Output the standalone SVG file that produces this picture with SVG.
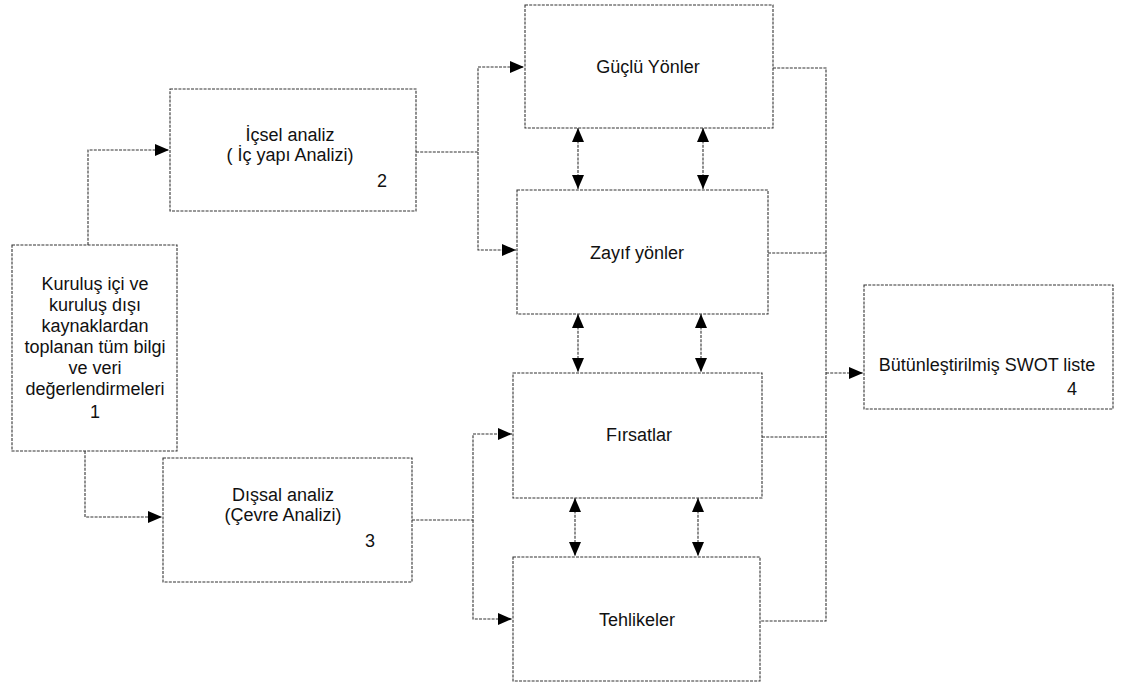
<svg xmlns="http://www.w3.org/2000/svg" width="1127" height="685" viewBox="0 0 1127 685">
<style>
.box{fill:#fff;stroke:#333;stroke-width:1.1;stroke-dasharray:3 1.2}
.ln{fill:none;stroke:#333;stroke-width:1.1;stroke-dasharray:3 1.2}
text{font-family:"Liberation Sans",Arial,sans-serif;font-size:18px;fill:#111;text-anchor:middle}
</style>
<defs>
<marker id="ah" markerUnits="userSpaceOnUse" markerWidth="15" markerHeight="12" refX="14" refY="6" orient="auto-start-reverse">
<path d="M0,0 L14,6 L0,12 Z" fill="#000"/>
</marker>
</defs>
<rect width="1127" height="685" fill="#fff"/>
<g id="connectors">
<path class="ln" d="M88,245 V150 H169" marker-end="url(#ah)"/>
<path class="ln" d="M85,451 V517 H162" marker-end="url(#ah)"/>
<path class="ln" d="M416,152 H478 V67 H524" marker-end="url(#ah)"/>
<path class="ln" d="M478,152 V250 H516" marker-end="url(#ah)"/>
<path class="ln" d="M412,520 H473 V434 H512" marker-end="url(#ah)"/>
<path class="ln" d="M473,520 V619 H512" marker-end="url(#ah)"/>
<path class="ln" d="M773,68 H826 V621 H760"/>
<path class="ln" d="M768,253 H826"/>
<path class="ln" d="M762,437 H826"/>
<path class="ln" d="M826,373 H863" marker-end="url(#ah)"/>
<path class="ln" d="M578,128 V189" marker-start="url(#ah)" marker-end="url(#ah)"/>
<path class="ln" d="M703,128 V189" marker-start="url(#ah)" marker-end="url(#ah)"/>
<path class="ln" d="M578,314 V372" marker-start="url(#ah)" marker-end="url(#ah)"/>
<path class="ln" d="M701,314 V372" marker-start="url(#ah)" marker-end="url(#ah)"/>
<path class="ln" d="M575,498 V556" marker-start="url(#ah)" marker-end="url(#ah)"/>
<path class="ln" d="M698,498 V556" marker-start="url(#ah)" marker-end="url(#ah)"/>
</g>
<g id="n1">
<rect class="box" x="12" y="245" width="165" height="206"/>
<text x="95" y="290">Kuruluş içi ve</text>
<text x="95" y="311">kuruluş dışı</text>
<text x="95" y="332">kaynaklardan</text>
<text x="95" y="353">toplanan tüm bilgi</text>
<text x="95" y="374">ve veri</text>
<text x="95" y="395">değerlendirmeleri</text>
<text x="95" y="418">1</text>
</g>
<g id="n2">
<rect class="box" x="170" y="89" width="246" height="122"/>
<text x="290" y="141">İçsel analiz</text>
<text x="290" y="161">( İç yapı Analizi)</text>
<text x="382" y="187">2</text>
</g>
<g id="n3">
<rect class="box" x="163" y="458" width="249" height="124"/>
<text x="283" y="501">Dışsal analiz</text>
<text x="283" y="521">(Çevre Analizi)</text>
<text x="370" y="547">3</text>
</g>
<g id="s">
<rect class="box" x="525" y="5" width="248" height="123"/>
<text x="648" y="73">Güçlü Yönler</text>
</g>
<g id="w">
<rect class="box" x="517" y="190" width="251" height="124"/>
<text x="637" y="259">Zayıf yönler</text>
</g>
<g id="o">
<rect class="box" x="513" y="373" width="249" height="125"/>
<text x="639" y="441">Fırsatlar</text>
</g>
<g id="t">
<rect class="box" x="513" y="557" width="247" height="124"/>
<text x="637" y="626">Tehlikeler</text>
</g>
<g id="n4">
<rect class="box" x="864" y="285" width="249" height="124"/>
<text x="987" y="371">Bütünleştirilmiş SWOT liste</text>
<text x="1072" y="395">4</text>
</g>
</svg>
